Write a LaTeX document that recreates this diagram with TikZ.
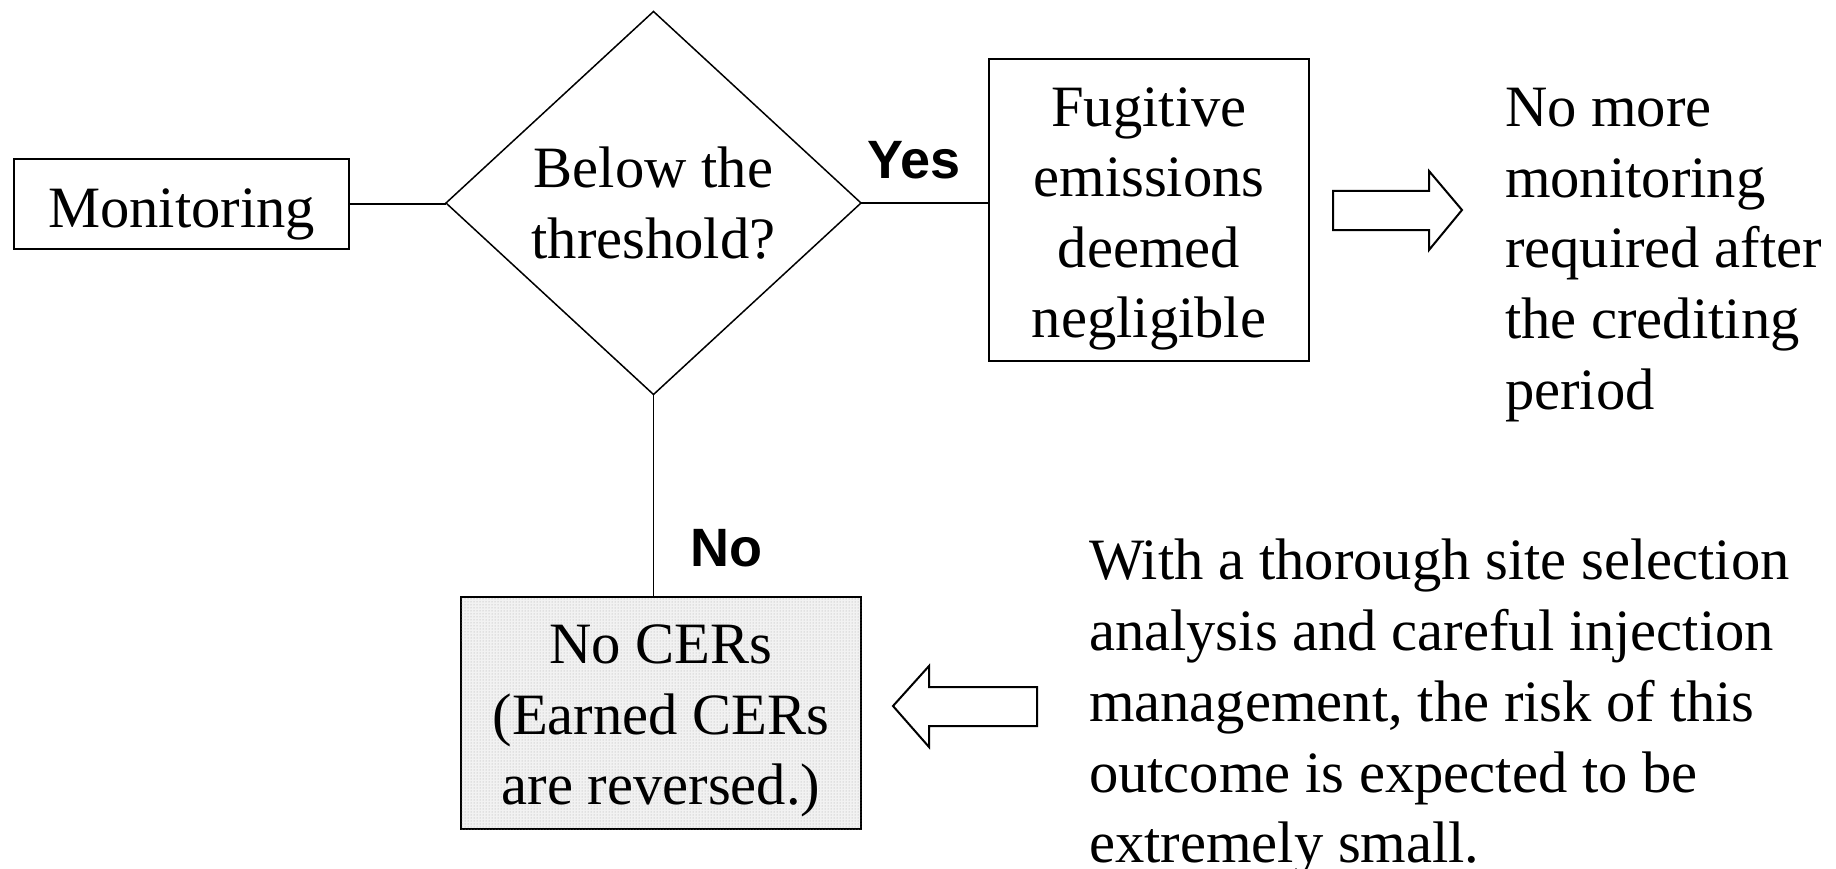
\documentclass[tikz,border=0pt]{standalone}
\usepackage{fontspec}
\setmainfont{Liberation Serif}
\newfontfamily\labfont{Liberation Sans}
\usetikzlibrary{shapes.geometric,patterns}
\begin{document}
\begin{tikzpicture}[x=1pt,y=-1pt,
  every node/.style={inner sep=0pt, outer sep=0pt},
  txt/.style={font=\fontsize{58.6}{70.3}\selectfont, align=center},
  ltxt/.style={font=\fontsize{58.6}{70.8}\selectfont, align=left, anchor=north west},
  boxed/.style={draw, line width=1.5pt},
  conn/.style={line width=1.5pt},
  lab/.style={font=\labfont\bfseries\fontsize{54}{60}\selectfont},
  blockarrow/.style={draw, line width=2pt, line join=miter, fill=white}]
\useasboundingbox (0,0) rectangle (1836,869);
% boxes
\node[boxed, minimum width=335pt, minimum height=90pt] (mon) at (181.5,204) {};
\node[txt] (montext) at ([yshift=-10pt]mon.center) {Monitoring};
\node[boxed, diamond, minimum width=415pt, minimum height=383pt] (dia) at (653.5,203) {};
\node[txt] (diatext) at (dia) {Below the\\threshold?};
\node[boxed, minimum width=320pt, minimum height=302pt] (fug) at (1149,210) {};
\node[txt] (fugtext) at ([yshift=-9pt]fug.center) {Fugitive\\emissions\\deemed\\negligible};
\node[boxed, minimum width=400pt, minimum height=232pt, fill=gray!10, postaction={pattern=dots, pattern color=gray!70}] (nocer) at (661,713) {};
\node[txt] (nocertext) at ([yshift=-8pt]nocer.center) {No CERs\\(Earned CERs\\are reversed.)};
% connectors
\draw[conn] (mon.east) -- (mon.east -| dia.west);
\draw[conn] (dia.east) -- (dia.east -| fug.west);
\draw[conn] (dia.south) -- (dia.south |- nocer.north);
% labels
\node[lab] (yes) at (914,160) {Yes};
\node[lab] (no) at (726,548) {No};
% block arrows
\draw[blockarrow] (1333,191) -- (1429,191) -- (1429,171) -- (1462,210) -- (1429,250) -- (1429,230) -- (1333,230) -- cycle;
\draw[blockarrow] (1037,687) -- (929,687) -- (929,666) -- (893,706) -- (929,747) -- (929,726) -- (1037,726) -- cycle;
% free texts
\node[ltxt] (note1) at (1505,88) {No more\\monitoring\\required after\\the crediting\\period};
\node[ltxt] (note2) at (1089,539) {With a thorough site selection\\analysis and careful injection\\management, the risk of this\\outcome is expected to be\\extremely small.};
\end{tikzpicture}
\end{document}
